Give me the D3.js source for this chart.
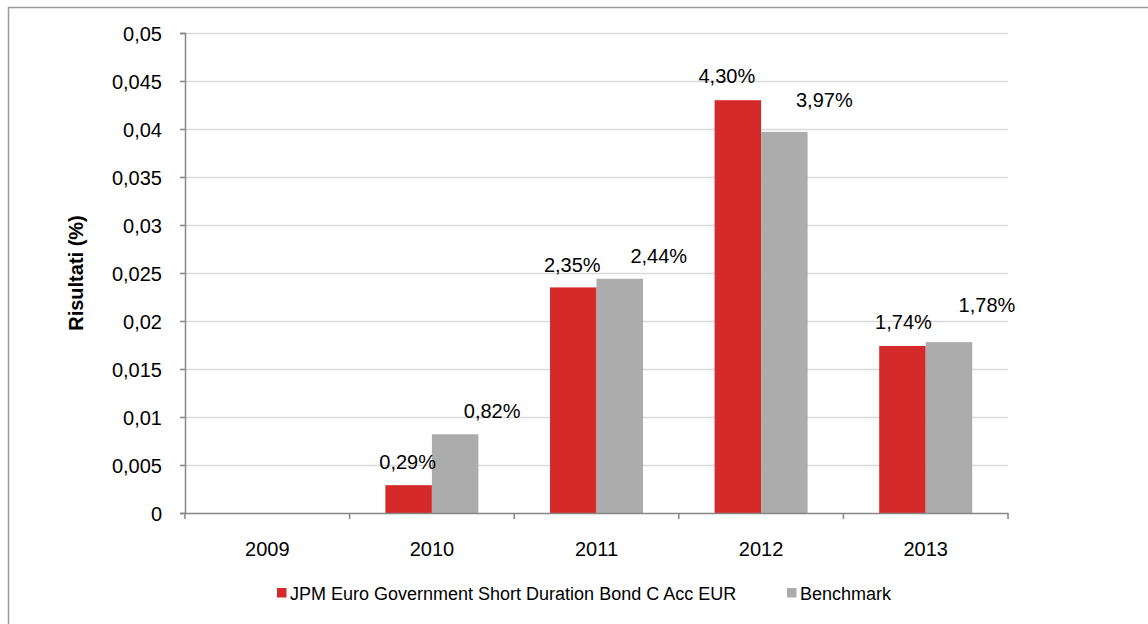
<!DOCTYPE html>
<html><head><meta charset="utf-8">
<script src="https://cdn.jsdelivr.net/npm/d3@7"></script>
<style>body{margin:0;background:#fff}svg{display:block;font-family:"Liberation Sans",Arial,sans-serif}</style>
</head><body><svg id="c" width="1148" height="624"></svg>
<script>
const categories = ["2009","2010","2011","2012","2013"];
const fundValues = [null,0.0029,0.0235,0.043,0.0174];
const benchValues = [null,0.0082,0.0244,0.0397,0.0178];
const fundLabels = ["","0,29%","2,35%","4,30%","1,74%"];
const benchLabels = ["","0,82%","2,44%","3,97%","1,78%"];
const yTicks = [0,0.005,0.01,0.015,0.02,0.025,0.03,0.035,0.04,0.045,0.05];
const yTickLabels = ["0","0,005","0,01","0,015","0,02","0,025","0,03","0,035","0,04","0,045","0,05"];
const seriesNames = ["JPM Euro Government Short Duration Bond C Acc EUR","Benchmark"];
// label nudges (layout, px)
const fundNudge = [[0,0],[-1,-16],[-1,-15],[-11,-17],[1,-17]];
const benchNudge = [[0,0],[37,-16],[39,-16],[40,-25],[38,-30]];

const colors = ["#D42A2A","#ABACAB"];
const FONT = "Liberation Sans, Arial, sans-serif";
const svg = d3.select("#c");
svg.append("rect").attr("x",8.5).attr("y",7.5).attr("width",1160).attr("height",640)
  .attr("fill","none").attr("stroke","#9a9a9a").attr("stroke-width",1.5);

const L=185,R=1008,T=33,B=513;
const x = d3.scaleBand().domain(categories).range([L,R]).paddingInner(0).paddingOuter(0);
const y = d3.scaleLinear().domain([0,0.05]).range([B,T]);
const grpW = 93;
const off = (x.bandwidth()-grpW)/2;
const bw = grpW/2;

// gridlines
svg.append("g").selectAll("line").data(yTicks.filter(d=>d>0)).join("line")
  .attr("x1",L).attr("x2",R).attr("y1",d=>Math.round(y(d))+0.5).attr("y2",d=>Math.round(y(d))+0.5)
  .attr("stroke","#D9D9D9").attr("stroke-width",1.5);

// y axis
const yAxis = d3.axisLeft(y).tickValues(yTicks).tickFormat((d,i)=>yTickLabels[i]).tickSize(5).tickPadding(18);
const gy = svg.append("g").attr("transform",`translate(${L},0)`).call(yAxis);
gy.attr("font-size",20).attr("font-family",FONT);
gy.select(".domain").attr("stroke","#868686").attr("stroke-width",1.5);
gy.selectAll(".tick line").attr("stroke","#868686").attr("stroke-width",1.5);
gy.selectAll(".tick text").attr("fill","#000").attr("dy","0.35em");

// bars
const data = categories.map((c,i)=>({c,i,f:fundValues[i],b:benchValues[i]}));
const g = svg.append("g");
data.forEach(d=>{
  [[d.f,0],[d.b,1]].forEach(([v,s])=>{
    if(v==null) return;
    g.append("rect").attr("x",x(d.c)+off+s*bw).attr("width",bw)
      .attr("y",y(v)).attr("height",y(0)-y(v)).attr("fill",colors[s]);
  });
});

// x axis
const xAxis = d3.axisBottom(x).tickSize(0).tickFormat(d=>d).tickPadding(29);
const gx = svg.append("g").attr("transform",`translate(0,${B})`).call(xAxis);
gx.attr("font-size",20).attr("font-family",FONT);
gx.select(".domain").attr("stroke","#868686").attr("stroke-width",1.5);
gx.selectAll(".tick text").attr("fill","#000");
const bounds = categories.map(c=>x(c)).concat([R]);
svg.append("g").selectAll("line").data(bounds).join("line")
  .attr("x1",d=>d).attr("x2",d=>d).attr("y1",B).attr("y2",B+6)
  .attr("stroke","#868686").attr("stroke-width",1.5);

// labels
data.forEach(d=>{
  if(d.f!=null){
    svg.append("text").attr("x",x(d.c)+off+bw/2+fundNudge[d.i][0]).attr("y",y(d.f)+fundNudge[d.i][1])
      .attr("text-anchor","middle").attr("font-size",20).text(fundLabels[d.i]);
  }
  if(d.b!=null){
    svg.append("text").attr("x",x(d.c)+off+bw*1.5+benchNudge[d.i][0]).attr("y",y(d.b)+benchNudge[d.i][1])
      .attr("text-anchor","middle").attr("font-size",20).text(benchLabels[d.i]);
  }
});

// y title
svg.append("text").attr("transform",`translate(83,${(T+B)/2}) rotate(-90)`).attr("text-anchor","middle")
  .attr("font-size",20).attr("font-weight","bold").text("Risultati (%)");

// legend
const leg = svg.append("g");
const legX=[277,787];
seriesNames.forEach((n,i)=>{
  leg.append("rect").attr("x",legX[i]).attr("y",588).attr("width",9.5).attr("height",9.5).attr("fill",colors[i]);
  leg.append("text").attr("x",legX[i]+13).attr("y",600).attr("font-size",18).text(n);
});
</script></body></html>
